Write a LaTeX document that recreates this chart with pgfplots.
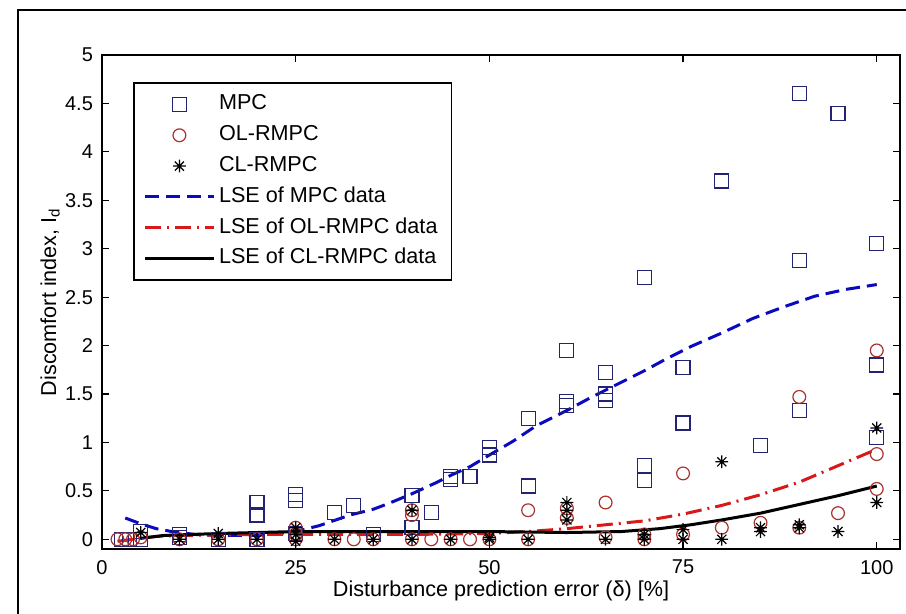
\documentclass[border=0pt]{standalone}
\usepackage{fontspec}
\setmainfont{Liberation Sans}
\usepackage{pgfplots}
\pgfplotsset{compat=1.18}
\definecolor{sqcol}{RGB}{35,35,115}
\definecolor{circcol}{RGB}{170,50,45}
\definecolor{mpcline}{RGB}{10,10,190}
\definecolor{olline}{RGB}{215,25,25}
\pgfdeclareplotmark{mstar}{%
  \pgfpathmoveto{\pgfqpoint{-\pgfplotmarksize}{0pt}}\pgfpathlineto{\pgfqpoint{\pgfplotmarksize}{0pt}}%
  \pgfpathmoveto{\pgfqpoint{0pt}{-\pgfplotmarksize}}\pgfpathlineto{\pgfqpoint{0pt}{\pgfplotmarksize}}%
  \pgfpathmoveto{\pgfqpoint{-0.707\pgfplotmarksize}{-0.707\pgfplotmarksize}}\pgfpathlineto{\pgfqpoint{0.707\pgfplotmarksize}{0.707\pgfplotmarksize}}%
  \pgfpathmoveto{\pgfqpoint{-0.707\pgfplotmarksize}{0.707\pgfplotmarksize}}\pgfpathlineto{\pgfqpoint{0.707\pgfplotmarksize}{-0.707\pgfplotmarksize}}%
  \pgfusepathqstroke}
\pgfplotsset{
  markleg/.style={legend image code/.code={\path (0cm,0cm) (1.2cm,0cm); \draw[##1] plot coordinates {(0.6cm,0cm)};}},
  lineleg/.style={legend image code/.code={\draw[##1] (0cm,0cm) -- (1.2cm,0cm);}},
}
\begin{document}
\begin{tikzpicture}
\begin{axis}[
  at={(0,0)}, anchor=south west,
  scale only axis, width=399pt, height=247pt,
  xmin=0, xmax=103, ymin=-0.1, ymax=5,
  xtick={0,25,50,75,100},
  ytick={0,0.5,1,1.5,2,2.5,3,3.5,4,4.5,5},
  tick align=inside, major tick length=3.5pt,
  tick style={black, line width=0.6pt},
  axis line style={black, line width=0.8pt},
  /pgf/number format/assume math mode=true,
  tick label style={font=\fontsize{10}{12}\selectfont},
  xticklabel style={yshift=-2pt},
  yticklabel style={xshift=-1pt},
  label style={font=\fontsize{10.8}{13}\selectfont},
  xlabel={Disturbance prediction error (δ) [\%]},
  ylabel={Discomfort index, I\textsubscript{d}},
  xlabel style={at={(axis description cs:0.5,-0.085)}, anchor=center},
  ylabel style={at={(axis description cs:-0.065,0.5)}, anchor=center},
  legend cell align=left,
  legend style={at={(rel axis cs:0.0388,0.945)}, anchor=north west,
    draw=black, line width=0.8pt, font=\fontsize{10.8}{13}\selectfont,
    inner xsep=5pt, inner ysep=4pt, row sep=1.9pt,
    nodes={text height=7.5pt, text depth=2pt}},
]
\addplot[only marks, mark=square, mark size=3.5pt, draw=sqcol, mark options={line width=0.6pt, fill=none}, markleg] coordinates {
(2.5,0) (3.5,0) (5,0.08) (5,0.0) (10,0.05) (10,0.02) (15,0.0)
(20,0.38) (20,0.25) (20,0.0) (25,0.46) (25,0.40) (25,0.06)
(30,0.28) (32.5,0.35) (35,0.05) (40,0.45) (40,0.12) (42.5,0.28)
(45,0.65) (45,0.62) (47.5,0.65) (50,0.95) (50,0.87) (55,1.25) (55,0.55)
(60,1.95) (60,1.42) (60,1.38) (65,1.72) (65,1.50) (65,1.43)
(70,2.70) (70,0.76) (70,0.61) (75,1.77) (75,1.20) (80,3.70) (85,0.97)
(90,4.60) (90,2.88) (90,1.33) (95,4.40) (100,3.05) (100,1.80) (100,1.05)
};
\addlegendentry{MPC}
\addplot[only marks, mark=o, mark size=3.2pt, draw=circcol, mark options={line width=0.6pt, fill=none}, markleg] coordinates {
(2,0) (3,0) (4,0) (5,0.02) (10,0) (15,0) (20,0)
(25,0.12) (25,0.05) (25,0) (30,0) (32.5,0) (35,0)
(40,0.30) (40,0.25) (40,0) (42.5,0) (45,0) (47.5,0) (50,0)
(55,0.30) (55,0) (60,0.32) (60,0.22) (65,0.38) (65,0.02)
(70,0.05) (70,0.0) (75,0.68) (75,0.05) (80,0.12) (85,0.17)
(90,1.47) (90,0.12) (95,0.27) (100,1.95) (100,0.88) (100,0.52)
};
\addlegendentry{OL-RMPC}
\addplot[only marks, mark=mstar, mark size=3.2pt, draw=black, mark options={line width=0.6pt}, markleg] coordinates {
(5,0.07) (10,0) (15,0.06) (15,0) (20,0) (25,0.12) (25,0.05) (25,-0.02)
(30,0) (35,0) (40,0.30) (40,0) (45,0) (50,0.02) (50,0) (55,0)
(60,0.38) (60,0.30) (60,0.20) (65,0) (70,0) (70,0.05) (75,0.10) (75,0)
(80,0.80) (80,0) (85,0.12) (85,0.08) (90,0.15) (90,0.12) (95,0.08)
(100,1.15) (100,0.38)
};
\addlegendentry{CL-RMPC}
\addplot[mpcline, line width=1.5pt, dash pattern=on 7pt off 3.5pt, no marks, lineleg] coordinates {
(3,0.22) (5,0.16) (7,0.11) (9,0.08) (12,0.05) (15,0.04) (20,0.04) (25,0.08)
(28,0.14) (32,0.25) (35,0.31) (37,0.37) (40,0.47) (43,0.58) (45,0.66)
(47.5,0.75) (50,0.87) (53,1.01) (56,1.17) (60,1.33) (63,1.46) (67,1.62)
(70,1.74) (73,1.87) (76,1.99) (80,2.13) (84,2.28) (88,2.40) (92,2.51)
(96,2.58) (100,2.63)
};
\addlegendentry{LSE of MPC data}
\addplot[olline, line width=1.5pt, dash pattern=on 8pt off 3pt on 1pt off 3pt, no marks, lineleg] coordinates {
(2,-0.02) (4,0.0) (7,0.03) (10,0.04) (20,0.05) (30,0.05) (40,0.05) (50,0.06)
(55,0.08) (60,0.11) (65,0.15) (70,0.19) (75,0.26) (80,0.35) (85,0.46)
(90,0.59) (95,0.76) (100,0.93)
};
\addlegendentry{LSE of OL-RMPC data}
\addplot[black, line width=1.5pt, no marks, lineleg] coordinates {
(5,0.01) (8,0.04) (15,0.06) (25,0.08) (40,0.08) (50,0.08) (60,0.07) (67,0.08)
(72,0.11) (76,0.15) (80,0.20) (85,0.27) (90,0.36) (95,0.45) (100,0.55)
};
\addlegendentry{LSE of CL-RMPC data}
\end{axis}
\draw[line width=1pt] (-42pt,-40pt) -- (-42pt,269.5pt) -- (410pt,269.5pt);
\pgfresetboundingbox
\path[use as bounding box] (-51pt,-32.5pt) rectangle (402pt,274.5pt);
\end{tikzpicture}
\end{document}
